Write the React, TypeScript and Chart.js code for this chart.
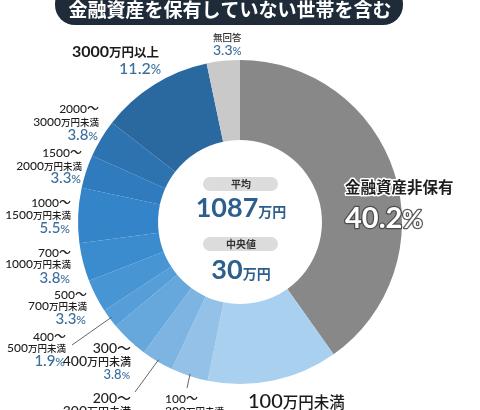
import React, { useEffect, useRef } from "react";
import { Chart, registerables } from "chart.js";

Chart.register(...registerables);

// ---------- data ----------
const title = "金融資産を保有していない世帯を含む";
const categories: string[] = [
  "金融資産非保有",
  "100万円未満",
  "100〜200万円未満",
  "200〜300万円未満",
  "300〜400万円未満",
  "400〜500万円未満",
  "500〜700万円未満",
  "700〜1000万円未満",
  "1000〜1500万円未満",
  "1500〜2000万円未満",
  "2000〜3000万円未満",
  "3000万円以上",
  "無回答",
];
const values: number[] = [40.2, 13.0, 3.7, 3.2, 3.8, 1.9, 3.3, 3.8, 5.5, 3.3, 3.8, 11.2, 3.3];
const centerLabels: string[] = ["平均", "中央値"];
const centerValues: string[] = ["1087", "30"];
const centerUnit = "万円";

// ---------- styles ----------
const colors = [
  "#888888",
  "#aad0ef",
  "#93c1e7",
  "#7db4e1",
  "#67a8dc",
  "#559ed8",
  "#4895d3",
  "#3a8ccf",
  "#3384c8",
  "#2f7bbd",
  "#2d73b0",
  "#2a68a0",
  "#c9c9c9",
];
const NUM = "Lato, 'Noto Sans CJK JP', sans-serif";
const JP = "'Noto Sans CJK JP', sans-serif";
const PCT_COLOR = "#3b6e9c";
const TXT = "#1e1e1e";

type Run = { t: string; size: number; weight?: string | number; color?: string; family?: string };

function font(r: Run) {
  return `${r.weight ?? 400} ${r.size}px ${r.family ?? NUM}`;
}

function drawRuns(
  ctx: CanvasRenderingContext2D,
  runs: Run[],
  x: number,
  y: number,
  align: "left" | "right" | "center",
  stroke?: { color: string; width: number }
) {
  const widths = runs.map((r) => {
    ctx.font = font(r);
    return ctx.measureText(r.t).width;
  });
  const total = widths.reduce((a, b) => a + b, 0);
  let sx = align === "left" ? x : align === "right" ? x - total : x - total / 2;
  ctx.textAlign = "left";
  ctx.textBaseline = "alphabetic";
  runs.forEach((r, i) => {
    ctx.font = font(r);
    if (stroke) {
      ctx.lineJoin = "round";
      ctx.strokeStyle = stroke.color;
      ctx.lineWidth = stroke.width;
      ctx.strokeText(r.t, sx, y);
    }
    ctx.fillStyle = r.color ?? TXT;
    ctx.fillText(r.t, sx, y);
    sx += widths[i];
  });
}

// split a text line into digit runs and other runs
function splitRuns(s: string, numSize: number, jpSize: number, color = TXT, weight: number | string = 500): Run[] {
  const parts = s.match(/[0-9.〜]+|[^0-9.〜]+/g) || [];
  return parts.map((p) =>
    /[0-9.〜]/.test(p[0])
      ? { t: p, size: numSize, weight, color, family: NUM }
      : { t: p, size: jpSize, weight, color, family: JP }
  );
}

function pctRuns(v: number, size: number): Run[] {
  return [
    { t: v.toFixed(1), size, weight: 500, color: PCT_COLOR },
    { t: "%", size: size * 0.8, weight: 500, color: PCT_COLOR },
  ];
}

function catLines(i: number): string[] {
  const c = categories[i];
  const k = c.indexOf("〜");
  return k >= 0 ? [c.slice(0, k + 1), c.slice(k + 1)] : [c];
}

// label placement (layout only)
type Pos = {
  x: number;
  ys: number[];
  align: "left" | "right";
  num: number;
  jp: number;
  pct: number;
  line?: [number, number];
};
const POS: (Pos | null)[] = [
  null,
  null,
  { x: 165, ys: [403, 415, 430], align: "left", num: 12, jp: 9.5, pct: 14, line: [187, 388] },
  { x: 131, ys: [403, 416, 430], align: "right", num: 14, jp: 11, pct: 13, line: [135, 392] },
  { x: 131, ys: [353, 366, 379], align: "right", num: 14, jp: 11, pct: 13 },
  { x: 66, ys: [341, 352, 366], align: "right", num: 12, jp: 9.5, pct: 15, line: [72, 345] },
  { x: 87, ys: [299, 310, 324], align: "right", num: 12, jp: 9.5, pct: 15 },
  { x: 71, ys: [257, 268, 283], align: "right", num: 12, jp: 9.5, pct: 15 },
  { x: 71, ys: [207, 219, 233], align: "right", num: 12, jp: 9.5, pct: 15 },
  { x: 82, ys: [157, 170, 183], align: "right", num: 12, jp: 9.5, pct: 15 },
  { x: 99, ys: [113, 126, 140], align: "right", num: 12, jp: 9.5, pct: 15 },
  null,
  null,
];

const labelPlugin = {
  id: "labels",
  afterDraw(chart: any) {
    const ctx: CanvasRenderingContext2D = chart.ctx;
    const meta = chart.getDatasetMeta(0);
    const arcs = meta.data;
    const cx = arcs[0].x;
    const cy = arcs[0].y;
    ctx.save();

    // title pill
    ctx.fillStyle = "#1f2b38";
    ctx.beginPath();
    (ctx as any).roundRect(55, -16, 348, 41, 20);
    ctx.fill();
    ctx.font = `700 19px ${JP}`;
    ctx.fillStyle = "#ffffff";
    ctx.textAlign = "center";
    ctx.textBaseline = "alphabetic";
    ctx.fillText(title, 230, 17);

    // center texts
    const pills = [
      { y: 177, label: centerLabels[0], val: centerValues[0], vy: 217 },
      { y: 237, label: centerLabels[1], val: centerValues[1], vy: 279 },
    ];
    pills.forEach((p) => {
      ctx.fillStyle = "#dcdcdc";
      ctx.beginPath();
      (ctx as any).roundRect(cx - 37, p.y, 75, 14, 7);
      ctx.fill();
      ctx.font = `700 10px ${JP}`;
      ctx.fillStyle = "#333333";
      ctx.textAlign = "center";
      ctx.textBaseline = "middle";
      ctx.fillText(p.label, cx + 1, p.y + 7.5);
      drawRuns(
        ctx,
        [
          { t: p.val, size: 27, weight: 700, color: "#2c5f8d" },
          { t: centerUnit, size: 14, weight: 700, color: "#2c5f8d", family: JP },
        ],
        cx + 1,
        p.vy,
        "center"
      );
    });

    // 金融資産非保有
    drawRuns(ctx, [{ t: categories[0], size: 15.5, weight: 700, family: JP, color: "#1e1e1e" }], 345, 193, "left", {
      color: "#ffffff",
      width: 3,
    });
    drawRuns(
      ctx,
      [
        { t: values[0].toFixed(1), size: 29, weight: 700, color: "#ffffff" },
        { t: "%", size: 25, weight: 700, color: "#ffffff" },
      ],
      345,
      228,
      "left",
      { color: "rgba(70,70,70,0.9)", width: 2.5 }
    );

    // 100万円未満
    drawRuns(ctx, splitRuns(categories[1], 20, 15.5, "#1a1a1a", 500), 248, 408, "left");
    drawRuns(ctx, pctRuns(values[1], 15), 248, 428, "left");

    // 3000万円以上
    drawRuns(ctx, splitRuns(categories[11], 16, 12.5, "#1a1a1a", 700), 72, 57, "left");
    drawRuns(ctx, pctRuns(values[11], 16), 161, 74, "right");

    // 無回答
    drawRuns(ctx, [{ t: categories[12], size: 9.5, weight: 500, family: JP, color: "#333" }], 213, 41, "left");
    drawRuns(ctx, pctRuns(values[12], 14), 213, 55, "left");

    // small labels
    POS.forEach((p, i) => {
      if (!p) return;
      const lines = catLines(i);
      lines.forEach((ln, j) => {
        drawRuns(ctx, splitRuns(ln, p.num, p.jp, TXT, 500), p.x, p.ys[j], p.align);
      });
      drawRuns(ctx, pctRuns(values[i], p.pct), p.x - (p.align === "right" ? 1 : 0), p.ys[lines.length], p.align);
      if (p.line) {
        const a: any = arcs[i];
        const mid = (a.startAngle + a.endAngle) / 2;
        const r = a.outerRadius - 2;
        ctx.strokeStyle = "#555555";
        ctx.lineWidth = 0.9;
        ctx.beginPath();
        ctx.moveTo(p.line[0], p.line[1]);
        ctx.lineTo(a.x + Math.cos(mid) * r, a.y + Math.sin(mid) * r);
        ctx.stroke();
      }
    });

    ctx.restore();
  },
};

export default function App() {
  const ref = useRef<HTMLCanvasElement | null>(null);
  useEffect(() => {
    if (!ref.current) return;
    const chart = new Chart(ref.current, {
      type: "doughnut",
      data: {
        labels: categories,
        datasets: [
          {
            data: values,
            backgroundColor: colors,
            borderWidth: 0,
          },
        ],
      },
      options: {
        responsive: false,
        animation: false,
        cutout: "50.6%",
        rotation: 0,
        layout: { padding: { left: 78, right: 78, top: 60, bottom: 26 } },
        plugins: {
          legend: { display: false },
          tooltip: { enabled: false },
          title: { display: false },
        },
      },
      plugins: [labelPlugin],
    });
    return () => chart.destroy();
  }, []);
  return (
    <div style={{ position: "absolute", left: 0, top: 0, width: 480, height: 410, background: "#fff" }}>
      <canvas ref={ref} width={480} height={410} style={{ width: 480, height: 410 }} />
    </div>
  );
}
